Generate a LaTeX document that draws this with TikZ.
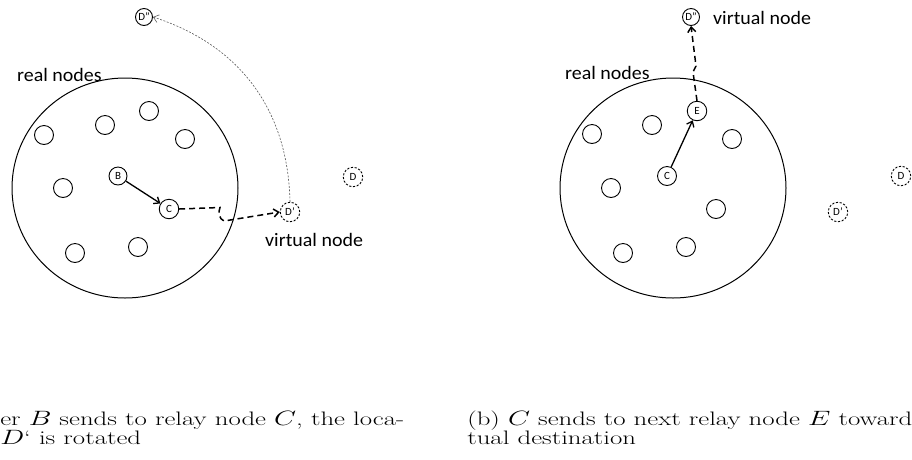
\documentclass[tikz,border=0pt]{standalone}
\usepackage{fontspec}
\setsansfont{Carlito}
\usetikzlibrary{arrows.meta}
\begin{document}
\begin{tikzpicture}[x=1pt,y=-1pt,
  big/.style={draw, line width=1pt},
  rn/.style={circle, draw, line width=0.9pt, minimum size=19pt, inner sep=0pt},
  lbl/.style={circle, draw, line width=0.9pt, minimum size=18pt, inner sep=0pt, font=\sffamily\fontsize{11}{11}\selectfont},
  vn/.style={lbl, dash pattern=on 2.2pt off 1.6pt},
  txt/.style={font=\sffamily\fontsize{19}{19}\selectfont, inner sep=0pt, xscale=1.05},
  captext/.style={font=\fontsize{19.5}{20}\selectfont, inner sep=0pt, anchor=base west, xscale=1.375},
  mytip/.style={-{Straight Barb[length=5pt,width=8pt]}},
  solidarr/.style={mytip, line width=1.3pt},
  dasharr/.style={mytip, line width=1.5pt, dash pattern=on 6pt off 4pt},
  rotarr/.style={mytip, line width=0.6pt, gray!70!black, dash pattern=on 2pt off 1.5pt}
]
\path[use as bounding box] (0,0) rectangle (912,459);

% ---------- left panel ----------
\draw[big] (125,188) ellipse [x radius=113, y radius=110];
\node[txt, anchor=west] (rnl) at (17,75) {real nodes};
\node[rn] (l1) at (44,135) {};
\node[rn] (l2) at (105,125) {};
\node[rn] (l3) at (149,111) {};
\node[rn] (l4) at (185,139) {};
\node[rn] (l5) at (63,188) {};
\node[rn] (l6) at (75,253) {};
\node[rn] (l7) at (138,247) {};
\node[lbl] (B) at (118,176) {B};
\node[lbl, minimum size=19.5pt] (Cl) at (169,209) {C};
\node[lbl, minimum size=17pt] (Dppl) at (144,17) {D"};
\node[vn, minimum size=19.5pt] (Dpl) at (290,212) {D’};
\node[vn, minimum size=19.5pt] (Dl) at (353,177) {D};
\node[txt, anchor=west] (vnl) at (265,240) {virtual node};
\coordinate (k1) at (220,207.5);
\coordinate (k2) at (224,221);
\draw[solidarr] (B) -- (Cl);
\draw[dasharr] (Cl.east) -- (k1) .. controls (218,212) and (219,219) .. (k2) -- (Dpl.west);
\draw[rotarr] (Dpl.north) .. controls (288,110) and (240,45) .. (Dppl.east);

% ---------- right panel ----------
\draw[big] (673,188) ellipse [x radius=113, y radius=110];
\node[txt, anchor=west] (rnr) at (565,73) {real nodes};
\node[rn] (r1) at (592,134) {};
\node[rn] (r2) at (652,125) {};
\node[rn] (r3) at (732,139) {};
\node[rn] (r4) at (611,188) {};
\node[rn] (r5) at (716,209) {};
\node[rn] (r6) at (623,253) {};
\node[rn] (r7) at (686,247) {};
\node[lbl, minimum size=19.5pt] (E) at (697,111) {E};
\node[lbl, minimum size=19pt] (Cr) at (667,176) {C};
\node[lbl, minimum size=17pt] (Dppr) at (691,17) {D"};
\node[vn, minimum size=19.5pt] (Dpr) at (838,212) {D’};
\node[vn, minimum size=19.5pt] (Dr) at (901,176) {D};
\node[txt, anchor=west] (vnr) at (713,18) {virtual node};
\coordinate (j1) at (693,72);
\coordinate (j2) at (696,66);
\draw[solidarr] (Cr) -- (E);
\draw[dasharr] (E.north) -- (j1) -- (j2) -- (Dppr.south);

% ---------- captions ----------
\node[captext] (capa1) at (0,425) {er $B$ sends to relay node $C$, the loca-};
\node[captext] (capa2) at (0,444) {$D$` is rotated};
\node[captext] (capb1) at (467,425) {(b) $C$ sends to next relay node $E$ toward};
\node[captext] (capb2) at (467,444) {tual destination};
\end{tikzpicture}
\end{document}
